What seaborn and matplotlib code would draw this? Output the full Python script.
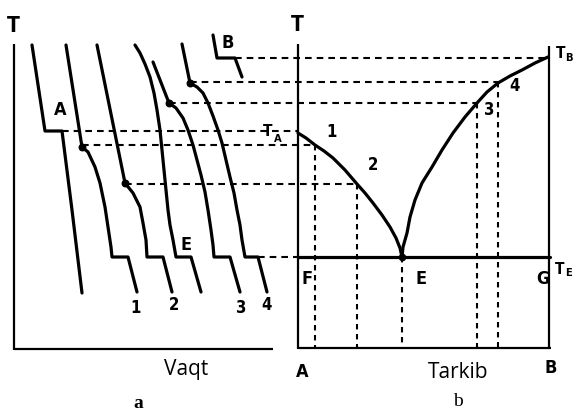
import matplotlib
matplotlib.use("Agg")
import matplotlib.pyplot as plt
import seaborn as sns
import pandas as pd

# ---------------- data (drawing frame: x to the right, y = downward) ----------------
# cooling curves (panel a)
curve_A_x = [32, 45, 62, 72, 82]
curve_A_y = [45, 131, 131, 210, 293]
curve_1_x = [66, 82, 88, 95, 100, 105, 108, 111, 112, 128, 137]
curve_1_y = [45, 147, 152, 167, 183, 207, 227, 247, 257, 257, 292]
curve_2_x = [97, 125, 133, 140, 143, 146, 147, 163, 172]
curve_2_y = [45, 183, 193, 207, 223, 240, 257, 257, 292]
curve_E_x = [135, 140, 145, 150, 154, 157, 160, 162, 164, 166, 168, 170, 173, 176, 191, 201]
curve_E_y = [45, 53, 64, 77, 93, 110, 130, 150, 170, 190, 210, 225, 240, 257, 257, 292]
curve_3_x = [153, 169, 176, 183, 188, 193, 197, 201, 205, 208, 211, 213, 214, 230, 240]
curve_3_y = [62, 103, 108, 118, 130, 145, 160, 175, 192, 210, 230, 245, 257, 257, 292]
curve_4_x = [182, 190, 197, 203, 208, 213, 218, 222, 226, 230, 234, 237, 240, 242, 245, 258, 267]
curve_4_y = [44, 83, 87, 93, 103, 116, 130, 143, 160, 177, 193, 210, 225, 240, 257, 257, 292]
curve_B_x = [213, 217, 235, 242]
curve_B_y = [35, 58, 58, 77]
break_x = [82, 125, 169, 190]
break_y = [147, 183, 103, 83]

# phase diagram (panel b)
liq_left_x = [298, 306, 315, 324, 333, 345, 357, 365, 373, 382, 390, 396, 400, 402]
liq_left_y = [133, 138, 145, 151, 158, 170, 184, 193, 203, 215, 227, 238, 248, 257]
liq_right_x = [402, 403, 407, 410, 415, 422, 432, 442, 453, 465, 477, 487, 498, 510, 522, 535, 548]
liq_right_y = [257, 247, 233, 217, 200, 183, 167, 150, 133, 117, 103, 92, 83, 76, 70, 63, 57]
eut_x = [298, 550]
eut_y = [257, 257]

# dashed projections
h_dash_x0 = [235, 190, 169, 62, 82, 125, 258]
h_dash_x1 = [548, 498, 477, 298, 315, 357, 298]
h_dash_y = [58, 82, 103, 131, 145, 184, 257]
v_dash_x = [315, 357, 402, 477, 498]
v_dash_y0 = [145, 184, 257, 103, 82]
v_dash_y1 = [348, 348, 348, 348, 348]

# ---------------- figure ----------------
sns.set_style("white")
fig = plt.figure(figsize=(5.76, 4.13), dpi=100)
ax = fig.add_axes([0, 0, 1, 1])

narrow = ["DejaVu Sans"]

# axes frames
frame_lw = 1.6
for xs, ys in [([14, 14], [44, 350]), ([14, 273], [349, 349]),
               ([298, 298], [44, 349]), ([549, 549], [46, 349]),
               ([298, 551], [348, 348])]:
    ax.plot(xs, ys, color="black", lw=frame_lw, solid_capstyle="butt")

# dashed projections
for x0, x1, y in zip(h_dash_x0, h_dash_x1, h_dash_y):
    ax.plot([x0, x1], [y, y], color="black", lw=1.5, linestyle=(0, (3.2, 2.4)))
for x, y0, y1 in zip(v_dash_x, v_dash_y0, v_dash_y1):
    ax.plot([x, x], [y0, y1], color="black", lw=1.5, linestyle=(0, (2.6, 2.2)))

# cooling curves
curves = [
    (curve_A_x, curve_A_y), (curve_1_x, curve_1_y), (curve_2_x, curve_2_y),
    (curve_E_x, curve_E_y), (curve_3_x, curve_3_y), (curve_4_x, curve_4_y),
    (curve_B_x, curve_B_y),
]
for cx, cy in curves:
    df = pd.DataFrame({"x": cx, "y": cy})
    sns.lineplot(data=df, x="x", y="y", sort=False, estimator=None, ax=ax,
                 color="black", lw=2.3, solid_joinstyle="round")
ax.scatter(break_x, break_y, s=22, color="black", zorder=5)

# phase diagram lines
for cx, cy in [(liq_left_x, liq_left_y), (liq_right_x, liq_right_y), (eut_x, eut_y)]:
    df = pd.DataFrame({"x": cx, "y": cy})
    sns.lineplot(data=df, x="x", y="y", sort=False, estimator=None, ax=ax,
                 color="black", lw=2.3, solid_joinstyle="round")
ax.scatter([402], [257], s=20, color="black", zorder=5)

ax.set_xlim(0, 576)
ax.set_ylim(413, 0)
ax.axis("off")

def lab(x, y, s, size=13, weight="bold", **kw):
    ax.text(x, y, s, fontsize=size, fontweight=weight, family=narrow,
            fontstretch="condensed", color="black",
            ha="center", va="center", **kw)

# axis "T" labels
lab(13, 26, "T", size=15)
lab(297, 25, "T", size=15)

# panel a labels
lab(60, 110, "A", size=13)
lab(228, 43, "B", size=13)
lab(186, 245, "E", size=13)
lab(136, 308, "1", size=12)
lab(174, 305, "2", size=12)
lab(241, 308, "3", size=12)
lab(267, 305, "4", size=12)

# panel b labels
lab(332, 132, "1", size=12)
lab(373, 165, "2", size=12)
lab(489, 110, "3", size=12)
lab(514, 86, "4", size=12)
lab(307, 279, "F", size=13)
lab(421, 279, "E", size=13)
lab(543, 279, "G", size=13)
lab(302, 372, "A", size=13)
lab(551, 368, "B", size=13)

# temperature labels
lab(268, 132, "T", size=11)
lab(278, 139, "A", size=8)
lab(561, 54, "T", size=11)
lab(569, 58, "B", size=8)
lab(560, 270, "T", size=11)
lab(568, 273, "E", size=8)

# axis titles
ax.text(186, 369, "Vaqt", fontsize=15, family=["Open Sans", "DejaVu Sans"],
        color="black", ha="center", va="center")
ax.text(458, 373, "Tarkib", fontsize=15, family=["Open Sans", "DejaVu Sans"],
        color="black", ha="center", va="center")
ax.text(138, 404, "a", fontsize=14, fontweight="bold",
        family=["Liberation Serif", "DejaVu Serif"], color="black",
        ha="center", va="center")
ax.text(458, 401, "b", fontsize=14,
        family=["Liberation Serif", "DejaVu Serif"], color="black",
        ha="center", va="center")

fig.savefig("out.png", dpi=100)
